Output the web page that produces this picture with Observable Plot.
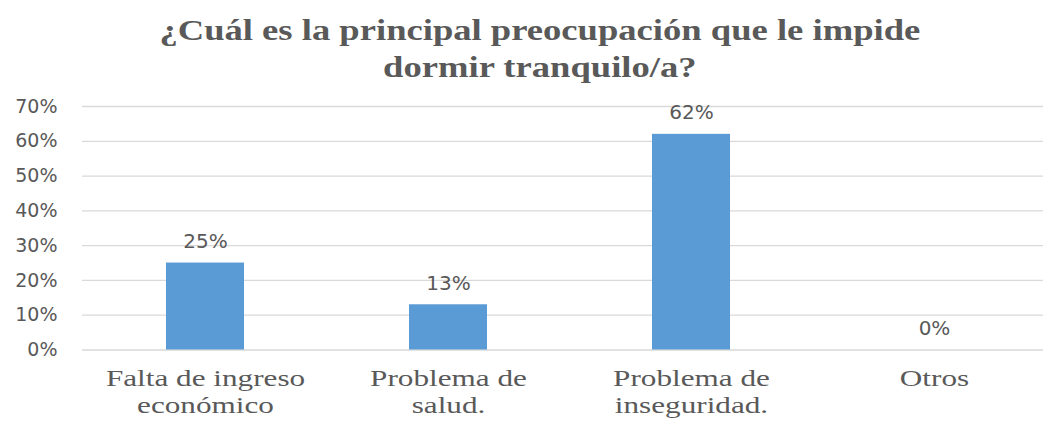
<!DOCTYPE html>
<html>
<head>
<meta charset="utf-8">
<script src="https://cdn.jsdelivr.net/npm/d3@7"></script>
<script src="https://cdn.jsdelivr.net/npm/@observablehq/plot@0.6"></script>
<style>
  html, body { margin: 0; padding: 0; background: #fff; overflow: hidden; }
  #title {
    width: 1043px; box-sizing: border-box; height: 85px;
    padding-top: 11px; padding-left: 36px;
    text-align: center;
    font-family: "Liberation Serif", "Times New Roman", serif;
    font-weight: bold; font-size: 30px; line-height: 37px; color: #595959;
  }
  #title span { display: inline-block; transform: scaleX(1.22); transform-origin: center; }
</style>
</head>
<body>
<div id="title"><span>¿Cuál es la principal preocupación que le impide<br>dormir tranquilo/a?</span></div>
<div id="chart"></div>
<script>
const categories = ["Falta de ingreso\neconómico", "Problema de\nsalud.", "Problema de\ninseguridad.", "Otros"];
const values = [0.25, 0.13, 0.62, 0];
const yTicks = [0, 0.1, 0.2, 0.3, 0.4, 0.5, 0.6, 0.7];

const data = categories.map((c, i) => ({category: c, value: values[i]}));
const pct = d3.format(".0%");
const gray = "#595959";

const chart = Plot.plot({
  width: 1043,
  height: 336,
  marginTop: 21,
  marginBottom: 71.5,
  marginLeft: 82,
  marginRight: 0,
  style: {background: "#fff", overflow: "hidden"},
  x: {domain: categories, range: [83.5, 1055.5], paddingInner: 0.68, paddingOuter: 0.34, label: null},
  y: {domain: [0, 0.7], label: null},
  marks: [
    Plot.gridY(yTicks, {stroke: "#d9d9d9", strokeOpacity: 1, strokeWidth: 1.3}),
    Plot.barY(data, {x: "category", y: "value", fill: "#5B9BD5"}),
    Plot.text(data, {x: "category", y: "value", text: d => pct(d.value), dy: -15, lineAnchor: "bottom",
      fill: gray, fontSize: 20, fontFamily: "DejaVu Sans"}),
    Plot.axisY(yTicks, {tickFormat: pct, tickSize: 0, tickPadding: 25, label: null,
      fill: gray, fontSize: 19, fontFamily: "DejaVu Sans"}),
    Plot.axisX({tickSize: 0, tickPadding: 17, label: null, lineHeight: 1.13,
      fill: gray, fontSize: 24, fontFamily: "Liberation Serif"})
  ]
});

// stretch the serif category labels horizontally, like the reference's wide lettering
const sx = 1.3;
chart.querySelectorAll('g[aria-label="x-axis tick label"] text').forEach(t => {
  const tr = t.getAttribute("transform") || "";
  const x = +(t.getAttribute("x") || 0);
  t.setAttribute("transform", `${tr} translate(${x * (1 - sx)},0) scale(${sx},1)`);
});
document.getElementById("chart").appendChild(chart);
</script>
</body>
</html>
